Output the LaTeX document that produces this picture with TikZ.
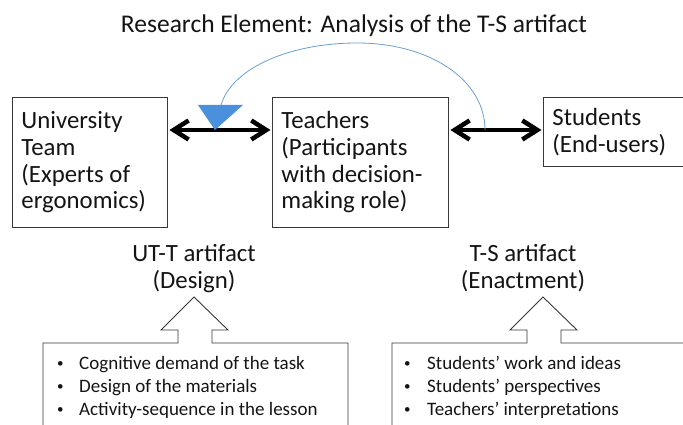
\documentclass[tikz,border=0pt]{standalone}
\usepackage{fontspec}
\setmainfont{Carlito}
\usetikzlibrary{arrows.meta}
\definecolor{linkblue}{RGB}{105,158,212}
\definecolor{markblue}{RGB}{74,144,220}
\definecolor{ink}{RGB}{20,20,20}
\newcommand{\itemdot}{\makebox[0pt][l]{\raisebox{1.8pt}{\fontsize{13}{13}\selectfont\textbullet}}}
\begin{document}
\begin{tikzpicture}[x=1pt,y=-1pt,
  big/.style={font=\fontsize{24.8}{26.7}\selectfont, text=ink},
  box/.style={big, draw=ink!85, line width=0.9pt, anchor=north west, align=flush left,
              inner xsep=9pt, inner ysep=0pt},
  link/.style={line width=4.5pt, line join=round, line cap=round,
               {Straight Barb[length=15pt,width=19pt]}-{Straight Barb[length=15pt,width=19pt]}},
  bul/.style={font=\fontsize{19}{23}\selectfont, text=ink, anchor=base west, inner sep=0pt},
  outline/.style={draw=ink!85, line width=0.9pt, line join=miter}
]
\useasboundingbox (0,0) rectangle (683,425);
\clip (0,0) rectangle (683,425);

% title
\node[big, font=\fontsize{25.5}{28}\selectfont, anchor=base] (title) at (354,33)
  {Research Element: Analysis of the T-S artifact};

% the three parties
\node[box, text width=137pt, minimum height=130pt] (ut) at (12,97)
  {University\\Team\\(Experts of\\ergonomics)};
\node[box, text width=158pt, minimum height=130pt] (tc) at (272,97)
  {Teachers\\(Participants\\with decision-\\making role)};
\node[box, text width=139pt, minimum height=69pt] (st) at (543,97)
  {Students\\(End-users)};

% exchanges between the parties
\coordinate (row) at (0,130);
\draw[link] ([xshift=1.5pt]ut.east |- row) -- ([xshift=-1.5pt]tc.west |- row);
\draw[link] ([xshift=1.5pt]tc.east |- row) -- ([xshift=-1.5pt]st.west |- row);

% feedback loop from the T-S exchange back to the UT-T exchange
\coordinate (loopstart) at (485,130);
\coordinate (tri) at (221,105);
\draw[linkblue, line width=0.8pt] (loopstart) .. controls (485,80) and (430,43) .. (357,43)
  .. controls (290,43) and (232,68) .. (tri);
\fill[markblue] (198,105) -- (243,105) -- (215,130) -- cycle;

% artifact labels (anchored on the baseline of the second line)
\node[big, align=center, anchor=base] (utt) at (194,288) {UT-T artifact\\(Design)};
\node[big, align=center, anchor=base] (tsa) at (523,288) {T-S artifact\\(Enactment)};

% call-out boxes with block arrows
\draw[outline] (43,440) -- (43,343) -- (178,343) -- (178,330) -- (161,330) -- (194,297)
  -- (228,330) -- (212,330) -- (212,343) -- (348,343) -- (348,440);
\draw[outline] (392,440) -- (392,343) -- (527,343) -- (527,330) -- (510,330) -- (543,297)
  -- (577,330) -- (561,330) -- (561,343) -- (700,343);

% design items
\node[bul] (d1) at (57,369) {\itemdot\hspace{22pt}Cognitive demand of the task};
\node[bul] (d2) at (57,392) {\itemdot\hspace{22pt}Design of the materials};
\node[bul] (d3) at (57,415) {\itemdot\hspace{22pt}Activity-sequence in the lesson};

% enactment items
\node[bul] (e1) at (404,369) {\itemdot\hspace{23pt}Students’ work and ideas};
\node[bul] (e2) at (404,392) {\itemdot\hspace{23pt}Students’ perspectives};
\node[bul] (e3) at (404,415) {\itemdot\hspace{23pt}Teachers’ interpretations};
\end{tikzpicture}
\end{document}
